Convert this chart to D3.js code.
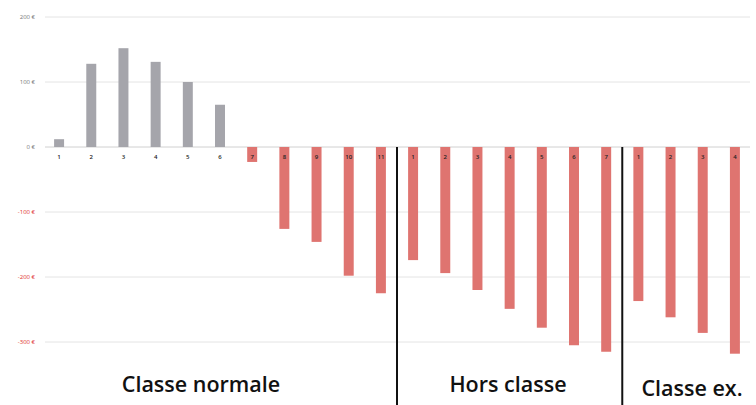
<!DOCTYPE html>
<html><head><meta charset="utf-8">
<script src="https://cdn.jsdelivr.net/npm/d3@7"></script>
<style>body{margin:0;background:#fff}svg{display:block}</style>
</head><body>
<svg id="c" width="756" height="405"></svg>
<script>
const tickLabels = ["1","2","3","4","5","6","7","8","9","10","11","1","2","3","4","5","6","7","1","2","3","4"];
const values = [12,128,152,131,100,65,-23,-126,-146,-198,-225,-174,-194,-220,-249,-278,-305,-315,-237,-262,-286,-318];
const yTicks = [200,100,0,-100,-200,-300];
const groups = ["Classe normale","Hors classe","Classe ex."];
const groupSizes = [11,7,4];

const svg = d3.select("#c");
const idx = values.map((d,i)=>i);
const x = d3.scaleBand().domain(idx).range([43,751]).paddingInner(0.69).paddingOuter(0.345);
const y = d3.scaleLinear().domain([-300,200]).range([342,17]);

// gridlines and y labels
const yAxis = d3.axisLeft(y).tickValues(yTicks).tickSize(0).tickPadding(0)
  .tickFormat(d=>d+" €");
const ga = svg.append("g").attr("transform","translate(36,0)").call(yAxis);
ga.select(".domain").remove();
ga.selectAll("text").attr("font-family","Open Sans").attr("font-size",6)
  .attr("fill",d=>d<0?"#e0302c":"#777").attr("dx",-1).attr("dy","0.32em");
svg.append("g").selectAll("line").data(yTicks).join("line")
  .attr("x1",45).attr("x2",750).attr("y1",d=>y(d)).attr("y2",d=>y(d))
  .attr("stroke",d=>d===0?"#d0d0d0":"#e4e4e4").attr("stroke-width",1);

// bars
svg.append("g").selectAll("rect").data(idx).join("rect")
  .attr("x",i=>x(i)).attr("width",x.bandwidth())
  .attr("y",i=>y(Math.max(0,values[i])))
  .attr("height",i=>Math.abs(y(values[i])-y(0)))
  .attr("fill",i=>values[i]<0?"#df7470":"#a5a5ab");

// category labels
const xAxis = d3.axisBottom(x).tickSize(0).tickFormat(i=>tickLabels[i]);
const gx = svg.append("g").attr("transform",`translate(0,${y(0)+5})`).call(xAxis);
gx.select(".domain").remove();
gx.selectAll("text").attr("font-family","Open Sans").attr("font-size",6).attr("fill","#222").attr("font-weight",600);

// separators
let start = 0;
const bounds = [];
groupSizes.forEach(n=>{bounds.push([start,start+n-1]); start+=n;});
const step = x.step();
bounds.slice(0,-1).forEach(b=>{
  const xs = x(b[1]) + x.bandwidth() + (step - x.bandwidth())/2;
  svg.append("line").attr("x1",xs).attr("x2",xs).attr("y1",y(0)).attr("y2",405)
    .attr("stroke","#111").attr("stroke-width",2);
});

// group labels
const labelPos = [[201,392],[508,392],[692,396]];
groups.forEach((g,k)=>{
  svg.append("text").attr("x",labelPos[k][0]).attr("y",labelPos[k][1])
    .attr("text-anchor","middle").attr("font-family","Open Sans").attr("font-weight",600)
    .attr("font-size",21.5).attr("fill","#111").text(g);
});
</script>
</body></html>
